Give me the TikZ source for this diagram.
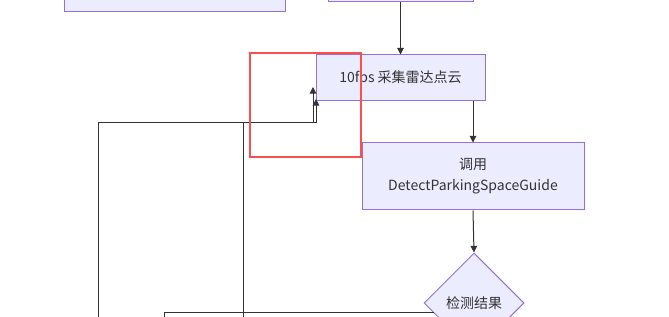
\documentclass[tikz,border=0pt]{standalone}
\usepackage{fontspec}
\setmainfont{Noto Sans CJK SC}
\usetikzlibrary{shapes.geometric,arrows.meta,calc}
\definecolor{nodefill}{HTML}{ECECFF}
\definecolor{nodeline}{HTML}{9370DB}
\definecolor{edgecol}{HTML}{333333}
\definecolor{marker}{HTML}{FF4D4D}
\begin{document}
\begin{tikzpicture}[x=0.75pt,y=-0.75pt,
  box/.style={draw=nodeline,fill=nodefill,line width=0.75pt,inner sep=0pt,text=edgecol,
    font=\fontsize{10.5}{15.75}\selectfont,align=center},
  dec/.style={diamond,draw=nodeline,fill=nodefill,line width=0.75pt,inner sep=0pt,
    minimum width=75pt,minimum height=75pt,text=edgecol,font=\fontsize{10.5}{15.75}\selectfont},
  edge/.style={draw=edgecol,line width=0.75pt},
  arr/.style={edge,-{Triangle[length=5pt,width=5pt]}},
  markbox/.style={draw=marker,line width=1.5pt}]
\path[use as bounding box, clip] (0,0) rectangle (669,317);
% nodes
\node[box,minimum width=165.75pt,minimum height=31.5pt] (topleft) at (174.5,-9) {};
\node[box,minimum width=108.75pt,minimum height=31.5pt] (topmid) at (400.5,-19) {};
\node[box,minimum width=126.75pt,minimum height=34.5pt] (radar) at (400.5,78) {10fps 采集雷达点云};
\node[box,minimum width=166.5pt,minimum height=50.25pt] (call) at (473,176.5) {调用\\DetectParkingSpaceGuide};
\node[dec] (dia) at (474,303) {检测结果};
% free ends
\coordinate (a0) at (98,330);
\coordinate (a1) at (313,87);
\coordinate (b0) at (243,330);
\coordinate (b1) at (316,99);
\coordinate (c1) at (164,330);
% connectors
\draw[arr] (topmid.south) -- (radar.north);
\draw[arr] (radar.south -| call.north) -- (call.north);
\draw[arr] (call.south) -- (dia.north);
\draw[arr] (a0) -- (98,123) -- (313,123) -- (a1);
\draw[arr] (b0) -- (243,123) -- (316,123) -- (b1);
\draw[edge] ([shift={(10,10)}]dia.west) -- (164,313) -- (c1);
% annotation
\draw[markbox] (250,53) rectangle (361,157);
\end{tikzpicture}
\end{document}
